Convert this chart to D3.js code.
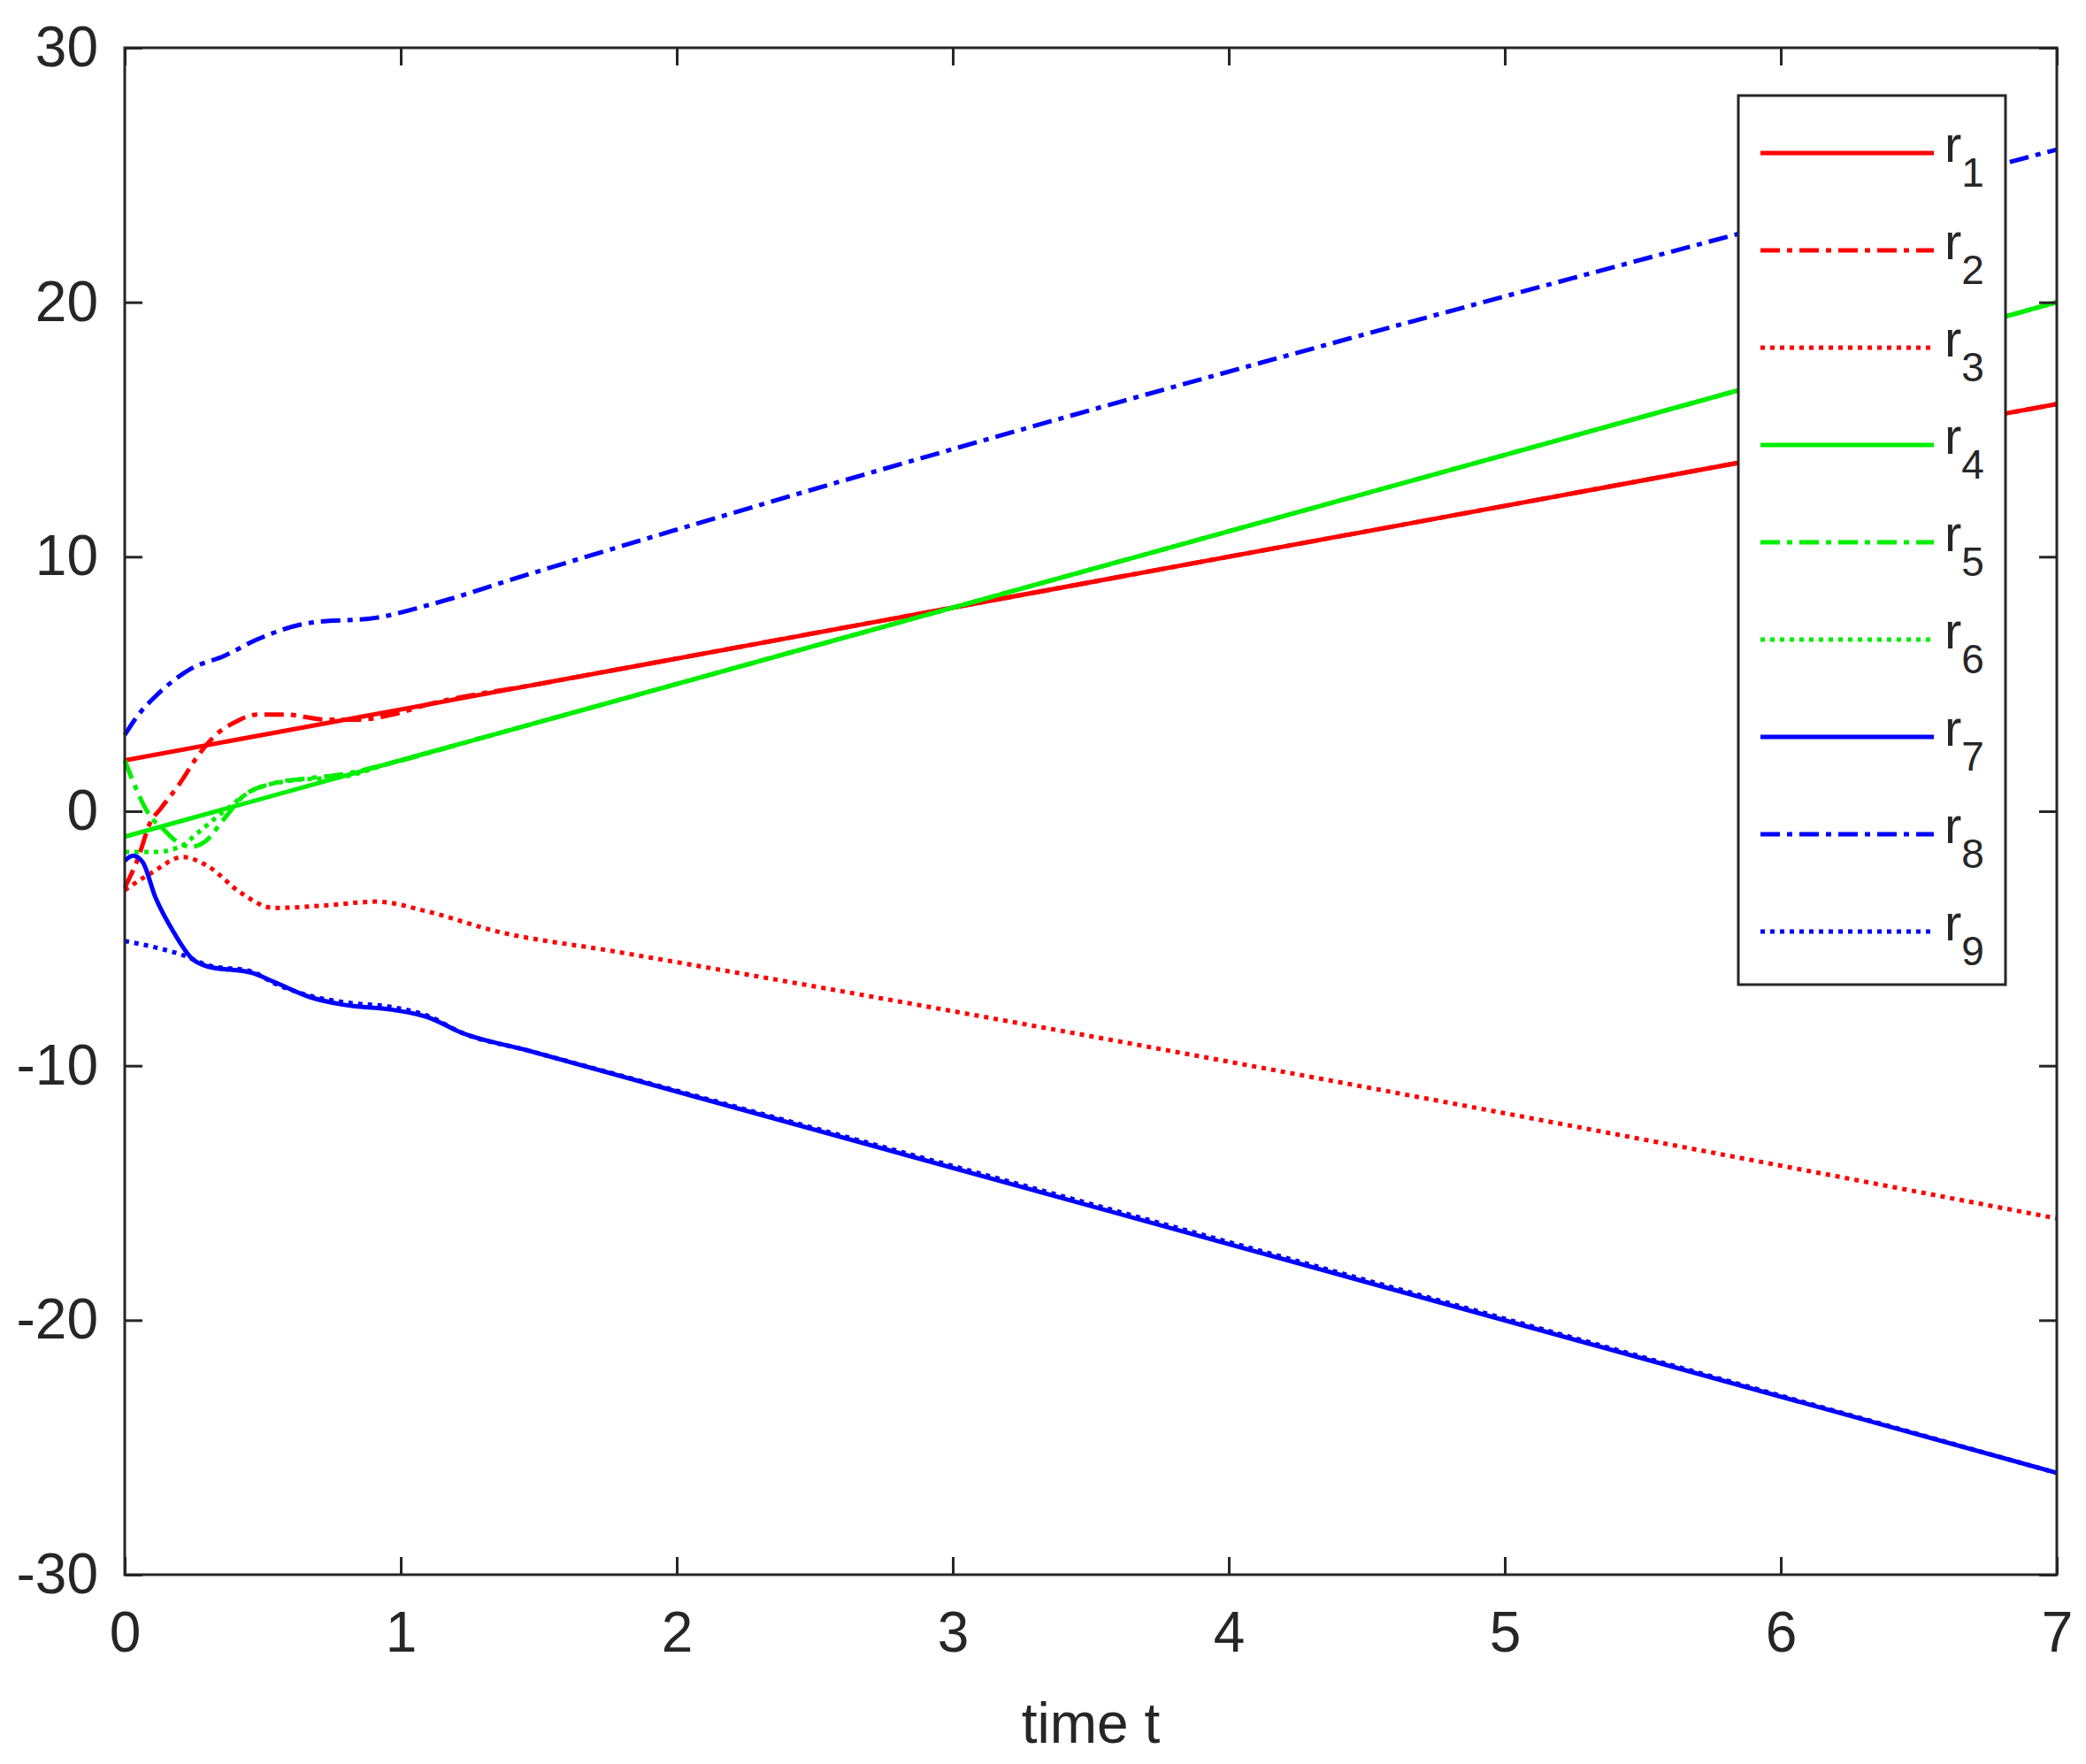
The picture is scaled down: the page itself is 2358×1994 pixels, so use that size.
<!DOCTYPE html>
<html>
<head>
<meta charset="utf-8">
<script src="https://cdn.jsdelivr.net/npm/d3@7"></script>
<style>
  body { margin: 0; background: #fff; }
  text { font-family: Arial, "Liberation Sans", sans-serif; fill: #262626; }
</style>
</head>
<body>
<svg id="chart" width="2358" height="1994"></svg>
<script>
// values: [t, r]
const r1 = [[0, 2], [7, 16]];
const r2 = [[0, -3], [0.05, -1.8], [0.09, -0.5], [0.13, 0.1], [0.2, 1.1], [0.26, 2.1], [0.33, 3.0], [0.4, 3.5],
            [0.48, 3.8], [0.58, 3.8], [0.73, 3.6], [0.85, 3.6], [0.97, 3.8], [1.1, 4.2], [1.5, 5.0], [7, 16]];
const r3 = [[0, -3.1], [0.1, -2.4], [0.21, -1.8], [0.3, -2.15], [0.42, -3.2], [0.54, -3.8], [0.73, -3.7],
            [0.91, -3.55], [1.1, -3.95], [1.34, -4.7], [1.77, -5.5], [7, -16]];
const r4 = [[0, -1], [7, 20]];
const r5 = [[0, 2], [0.1, -0.3], [0.13, -0.6], [0.19, -1.2], [0.24, -1.4], [0.29, -1.2], [0.36, -0.3],
            [0.43, 0.6], [0.54, 1.1], [0.67, 1.3], [0.79, 1.45], [0.95, 1.85], [1.3, 2.9], [7, 20]];
const r6 = [[0, -1.6], [0.11, -1.6], [0.2, -1.4], [0.27, -0.8], [0.36, 0], [0.46, 0.8], [0.6, 1.2],
            [0.79, 1.35], [0.95, 1.85], [1.3, 2.9], [7, 20]];
const r7 = [[0, -1.95], [0.03, -1.75], [0.065, -2.0], [0.11, -3.35], [0.18, -4.8], [0.24, -5.75], [0.3, -6.1],
            [0.46, -6.35], [0.54, -6.7], [0.67, -7.3], [0.79, -7.6], [0.97, -7.8], [1.1, -8.1], [1.22, -8.7],
            [1.46, -9.4], [7, -26]];
const r9 = [[0, -5.1], [0.11, -5.35], [0.21, -5.65], [0.3, -6.05], [0.46, -6.3], [0.54, -6.75], [0.67, -7.25],
            [0.79, -7.5], [0.97, -7.7], [1.1, -8.05], [1.22, -8.7], [1.46, -9.4], [7, -26]];
const r8 = [[0, 3.0], [0.05, 3.8], [0.11, 4.5], [0.24, 5.6], [0.36, 6.1], [0.48, 6.75], [0.67, 7.4], [0.91, 7.6],
            [1.1, 8.1], [1.46, 9.3], [7, 26]];

const seriesNames = ["r1", "r2", "r3", "r4", "r5", "r6", "r7", "r8", "r9"];
const seriesData = [r1, r2, r3, r4, r5, r6, r7, r8, r9];
const seriesColors = ["#ff0000", "#ff0000", "#ff0000", "#00ee00", "#00ee00", "#00ee00", "#0000ff", "#0000ff", "#0000ff"];
const seriesDash = ["none", "22,8,6,8", "5,6", "none", "22,8,6,8", "5,6", "none", "22,8,6,8", "5,6"];
const xTicks = [0, 1, 2, 3, 4, 5, 6, 7];
const yTicks = [-30, -20, -10, 0, 10, 20, 30];

const svg = d3.select("#chart");
const m = { left: 141, right: 2325, top: 54, bottom: 1780 };

const x = d3.scaleLinear().domain([0, 7]).range([m.left, m.right]);
const y = d3.scaleLinear().domain([-30, 30]).range([m.bottom, m.top]);

// lines
const line = d3.line().x(d => x(d[0])).y(d => y(d[1])).curve(d3.curveMonotoneX);
svg.append("g").selectAll("path")
    .data(seriesData)
    .join("path")
    .attr("d", line)
    .attr("fill", "none")
    .attr("stroke", (d, i) => seriesColors[i])
    .attr("stroke-width", 5)
    .attr("stroke-dasharray", (d, i) => seriesDash[i]);

// axes (ticks inside, box on all four sides)
const tickLen = 20;
const fmt = d => String(d);
const axisStyle = g => {
    g.select(".domain").remove();
    g.selectAll("line").attr("stroke", "#262626").attr("stroke-width", 3);
    g.selectAll("text").style("font-size", "64px").attr("fill", "#262626");
};
svg.append("g").attr("transform", `translate(0,${m.bottom})`)
    .call(d3.axisBottom(x).tickValues(xTicks).tickSize(-tickLen).tickPadding(42).tickFormat(fmt))
    .call(axisStyle);
svg.append("g").attr("transform", `translate(0,${m.top})`)
    .call(d3.axisTop(x).tickValues(xTicks).tickSize(-tickLen).tickFormat(""))
    .call(axisStyle);
svg.append("g").attr("transform", `translate(${m.left},0)`)
    .call(d3.axisLeft(y).tickValues(yTicks).tickSize(-tickLen).tickPadding(30).tickFormat(fmt))
    .call(axisStyle);
svg.append("g").attr("transform", `translate(${m.right},0)`)
    .call(d3.axisRight(y).tickValues(yTicks).tickSize(-tickLen).tickFormat(""))
    .call(axisStyle);
svg.append("rect")
    .attr("x", m.left).attr("y", m.top)
    .attr("width", m.right - m.left).attr("height", m.bottom - m.top)
    .attr("fill", "none").attr("stroke", "#262626").attr("stroke-width", 3);

svg.append("text")
    .attr("x", (m.left + m.right) / 2).attr("y", 1970)
    .attr("text-anchor", "middle")
    .style("font-size", "64px")
    .text("time t");

// legend
const lg = svg.append("g");
lg.append("rect")
    .attr("x", 1965).attr("y", 108).attr("width", 302).attr("height", 1005)
    .attr("fill", "#fff").attr("stroke", "#262626").attr("stroke-width", 3);
const rows = lg.selectAll("g.row")
    .data(seriesNames)
    .join("g")
    .attr("transform", (d, i) => `translate(0,${173 + i * 110})`);
rows.append("line")
    .attr("x1", 1990).attr("x2", 2186)
    .attr("stroke", (d, i) => seriesColors[i])
    .attr("stroke-width", 5)
    .attr("stroke-dasharray", (d, i) => seriesDash[i]);
const lbl = rows.append("text")
    .attr("x", 2198).attr("y", 10)
    .style("font-size", "58px")
    .attr("fill", "#000");
lbl.append("tspan").text("r");
lbl.append("tspan").attr("dy", 28).style("font-size", "46px").text(d => d.slice(1));
</script>
</body>
</html>
